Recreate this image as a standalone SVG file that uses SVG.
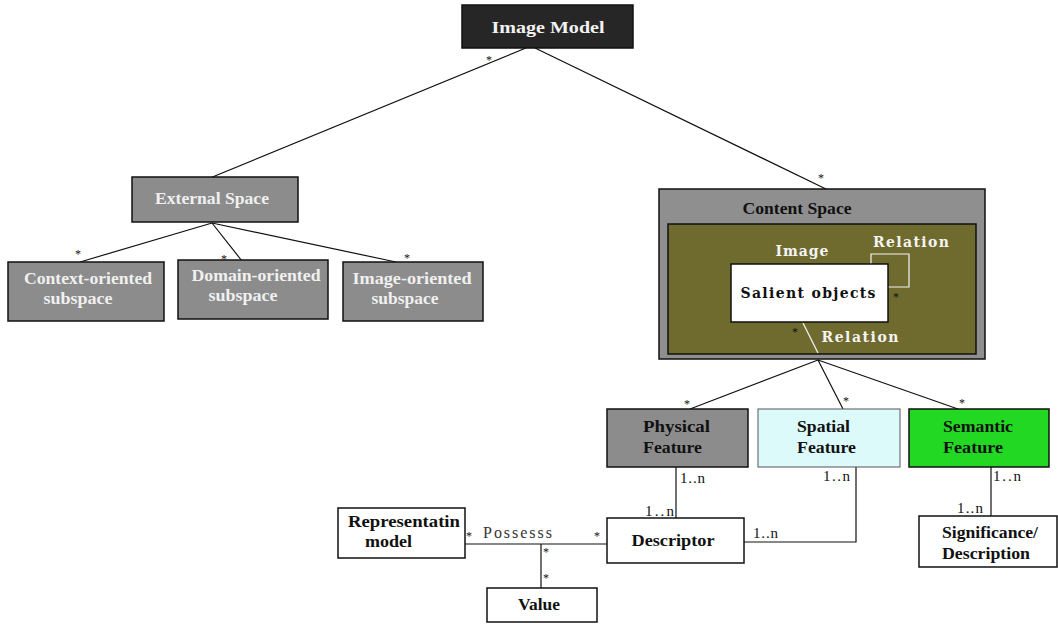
<svg xmlns="http://www.w3.org/2000/svg" width="1058" height="624" viewBox="0 0 1058 624">
<style>
.box{stroke:#111;stroke-width:1.5}
.lbl{font-family:"Liberation Serif",serif;font-weight:bold;font-size:16px}
.slab{font-family:"DejaVu Serif",serif;font-weight:bold;font-size:14px}
.mult{font-family:"Liberation Serif",serif;font-size:15px;fill:#111}
.star{font-family:"Liberation Serif",serif;font-size:12px;fill:#111}
.ln{fill:none;stroke:#111;stroke-width:1.2}
.wl{fill:none;stroke:#f4f4f4;stroke-width:1.2}
</style>
<rect width="1058" height="624" fill="#ffffff"/>
<g id="connectors">
<path class="ln" d="M526,48 L210,178"/>
<path class="ln" d="M535,48 L828,190"/>
<path class="ln" d="M212,223 L80,262"/>
<path class="ln" d="M212,223 L242,261"/>
<path class="ln" d="M212,223 L396,262"/>
<path class="ln" d="M818,360 L690,409"/>
<path class="ln" d="M818,360 L843,409"/>
<path class="ln" d="M818,360 L958,409"/>
<path class="ln" d="M676,467 L676,518"/>
<path class="ln" d="M856,467 L856,542 L744,542"/>
<path class="ln" d="M991,467 L991,516"/>
<path class="ln" d="M465,544 L607,544"/>
<path class="ln" d="M541,544 L541,588"/>
<text class="star" x="486" y="64">*</text>
<text class="star" x="818" y="182">*</text>
<text class="star" x="75" y="258">*</text>
<text class="star" x="221" y="263">*</text>
<text class="star" x="404" y="262">*</text>
<text class="star" x="684" y="408">*</text>
<text class="star" x="843" y="405">*</text>
<text class="star" x="959" y="407">*</text>
<text class="mult" x="680" y="483" textLength="25" lengthAdjust="spacing">1..n</text>
<text class="mult" x="645" y="516" textLength="29" lengthAdjust="spacing">1..n</text>
<text class="mult" x="823" y="481" textLength="27" lengthAdjust="spacing">1..n</text>
<text class="mult" x="753" y="538" textLength="25" lengthAdjust="spacing">1..n</text>
<text class="mult" x="993" y="481" textLength="28" lengthAdjust="spacing">1..n</text>
<text class="mult" x="957" y="513" textLength="26" lengthAdjust="spacing">1..n</text>
<text class="star" x="466" y="540">*</text>
<text class="star" x="594" y="540">*</text>
<text class="star" x="543" y="556">*</text>
<text class="star" x="543" y="582">*</text>
<text x="483" y="538" font-family="Liberation Serif,serif" font-size="16" fill="#333" textLength="69" lengthAdjust="spacing">Possesss</text>
</g>
<g id="image-model">
<rect class="box" x="462" y="5" width="171" height="43" fill="#262626"/>
<text class="lbl" x="548" y="33" font-size="17" fill="#f2f2f2" text-anchor="middle" textLength="113" lengthAdjust="spacingAndGlyphs">Image Model</text>
</g>
<g id="external-space">
<rect class="box" x="132" y="177" width="166" height="45" fill="#8c8c8c"/>
<text class="lbl" x="212" y="204" fill="#f0f0f0" text-anchor="middle" textLength="114" lengthAdjust="spacingAndGlyphs">External Space</text>
</g>
<g id="context-oriented">
<rect class="box" x="8" y="262" width="156" height="59" fill="#8c8c8c"/>
<text class="lbl" x="88" y="284" fill="#f0f0f0" text-anchor="middle" textLength="128" lengthAdjust="spacingAndGlyphs">Context-oriented</text>
<text class="lbl" x="78" y="304" fill="#f0f0f0" text-anchor="middle" textLength="69" lengthAdjust="spacingAndGlyphs">subspace</text>
</g>
<g id="domain-oriented">
<rect class="box" x="178" y="260" width="150" height="59" fill="#8c8c8c"/>
<text class="lbl" x="256" y="281" fill="#f0f0f0" text-anchor="middle" textLength="129" lengthAdjust="spacingAndGlyphs">Domain-oriented</text>
<text class="lbl" x="243" y="301" fill="#f0f0f0" text-anchor="middle" textLength="69" lengthAdjust="spacingAndGlyphs">subspace</text>
</g>
<g id="image-oriented">
<rect class="box" x="343" y="262" width="140" height="59" fill="#8c8c8c"/>
<text class="lbl" x="412" y="284" fill="#f0f0f0" text-anchor="middle" textLength="119" lengthAdjust="spacingAndGlyphs">Image-oriented</text>
<text class="lbl" x="405" y="304" fill="#f0f0f0" text-anchor="middle" textLength="67" lengthAdjust="spacingAndGlyphs">subspace</text>
</g>
<g id="content-space">
<rect class="box" x="659" y="189" width="326" height="170" fill="#8f8f8f"/>
<text class="lbl" x="797" y="214" fill="#111" text-anchor="middle" textLength="109" lengthAdjust="spacingAndGlyphs">Content Space</text>
<rect class="box" x="668" y="224" width="308" height="130" fill="#6f6a2e"/>
<text class="slab" x="802" y="256" fill="#f4f4f4" text-anchor="middle" textLength="53" lengthAdjust="spacing">Image</text>
<text class="slab" x="911" y="247" fill="#f4f4f4" text-anchor="middle" textLength="76" lengthAdjust="spacing">Relation</text>
<path class="wl" d="M871,264 L871,254 L909,254 L909,287 L888,287"/>
<path class="wl" d="M803,323 L818,353"/>
<text class="slab" x="860" y="342" fill="#f4f4f4" text-anchor="middle" textLength="77" lengthAdjust="spacing">Relation</text>
<text class="star" x="893" y="301">*</text>
<text class="star" x="792" y="336">*</text>
</g>
<g id="salient-objects">
<rect class="box" x="731" y="264" width="157" height="58" fill="#ffffff"/>
<text class="slab" x="808" y="298" fill="#111" text-anchor="middle" textLength="135" lengthAdjust="spacing">Salient objects</text>
</g>
<g id="physical-feature">
<rect class="box" x="607" y="409" width="141" height="58" fill="#8c8c8c"/>
<text class="lbl" x="643" y="432" fill="#111" textLength="67" lengthAdjust="spacingAndGlyphs">Physical</text>
<text class="lbl" x="643" y="453" fill="#111" textLength="59" lengthAdjust="spacingAndGlyphs">Feature</text>
</g>
<g id="spatial-feature">
<rect x="758" y="409" width="142" height="58" fill="#dcfafa" stroke="#555" stroke-width="1"/>
<text class="lbl" x="797" y="432" fill="#111" textLength="53" lengthAdjust="spacingAndGlyphs">Spatial</text>
<text class="lbl" x="797" y="453" fill="#111" textLength="59" lengthAdjust="spacingAndGlyphs">Feature</text>
</g>
<g id="semantic-feature">
<rect class="box" x="909" y="409" width="140" height="58" fill="#22d822"/>
<text class="lbl" x="943" y="432" fill="#111" textLength="70" lengthAdjust="spacingAndGlyphs">Semantic</text>
<text class="lbl" x="943" y="453" fill="#111" textLength="60" lengthAdjust="spacingAndGlyphs">Feature</text>
</g>
<g id="descriptor">
<rect class="box" x="607" y="518" width="137" height="45" fill="#ffffff"/>
<text class="lbl" x="673" y="546" fill="#111" text-anchor="middle" textLength="83" lengthAdjust="spacingAndGlyphs">Descriptor</text>
</g>
<g id="significance">
<rect class="box" x="919" y="516" width="138" height="51" fill="#ffffff"/>
<text class="lbl" x="942" y="538" fill="#111" textLength="96" lengthAdjust="spacingAndGlyphs">Significance/</text>
<text class="lbl" x="942" y="559" fill="#111" textLength="88" lengthAdjust="spacingAndGlyphs">Description</text>
</g>
<g id="representation-model">
<rect class="box" x="338" y="508" width="127" height="50" fill="#ffffff"/>
<text class="lbl" x="348" y="527" fill="#111" textLength="112" lengthAdjust="spacingAndGlyphs">Representatin</text>
<text class="lbl" x="365" y="547" fill="#111" textLength="47" lengthAdjust="spacingAndGlyphs">model</text>
</g>
<g id="value">
<rect class="box" x="487" y="588" width="110" height="34" fill="#ffffff"/>
<text class="lbl" x="539" y="610" fill="#111" text-anchor="middle" textLength="42" lengthAdjust="spacingAndGlyphs">Value</text>
</g>
</svg>
